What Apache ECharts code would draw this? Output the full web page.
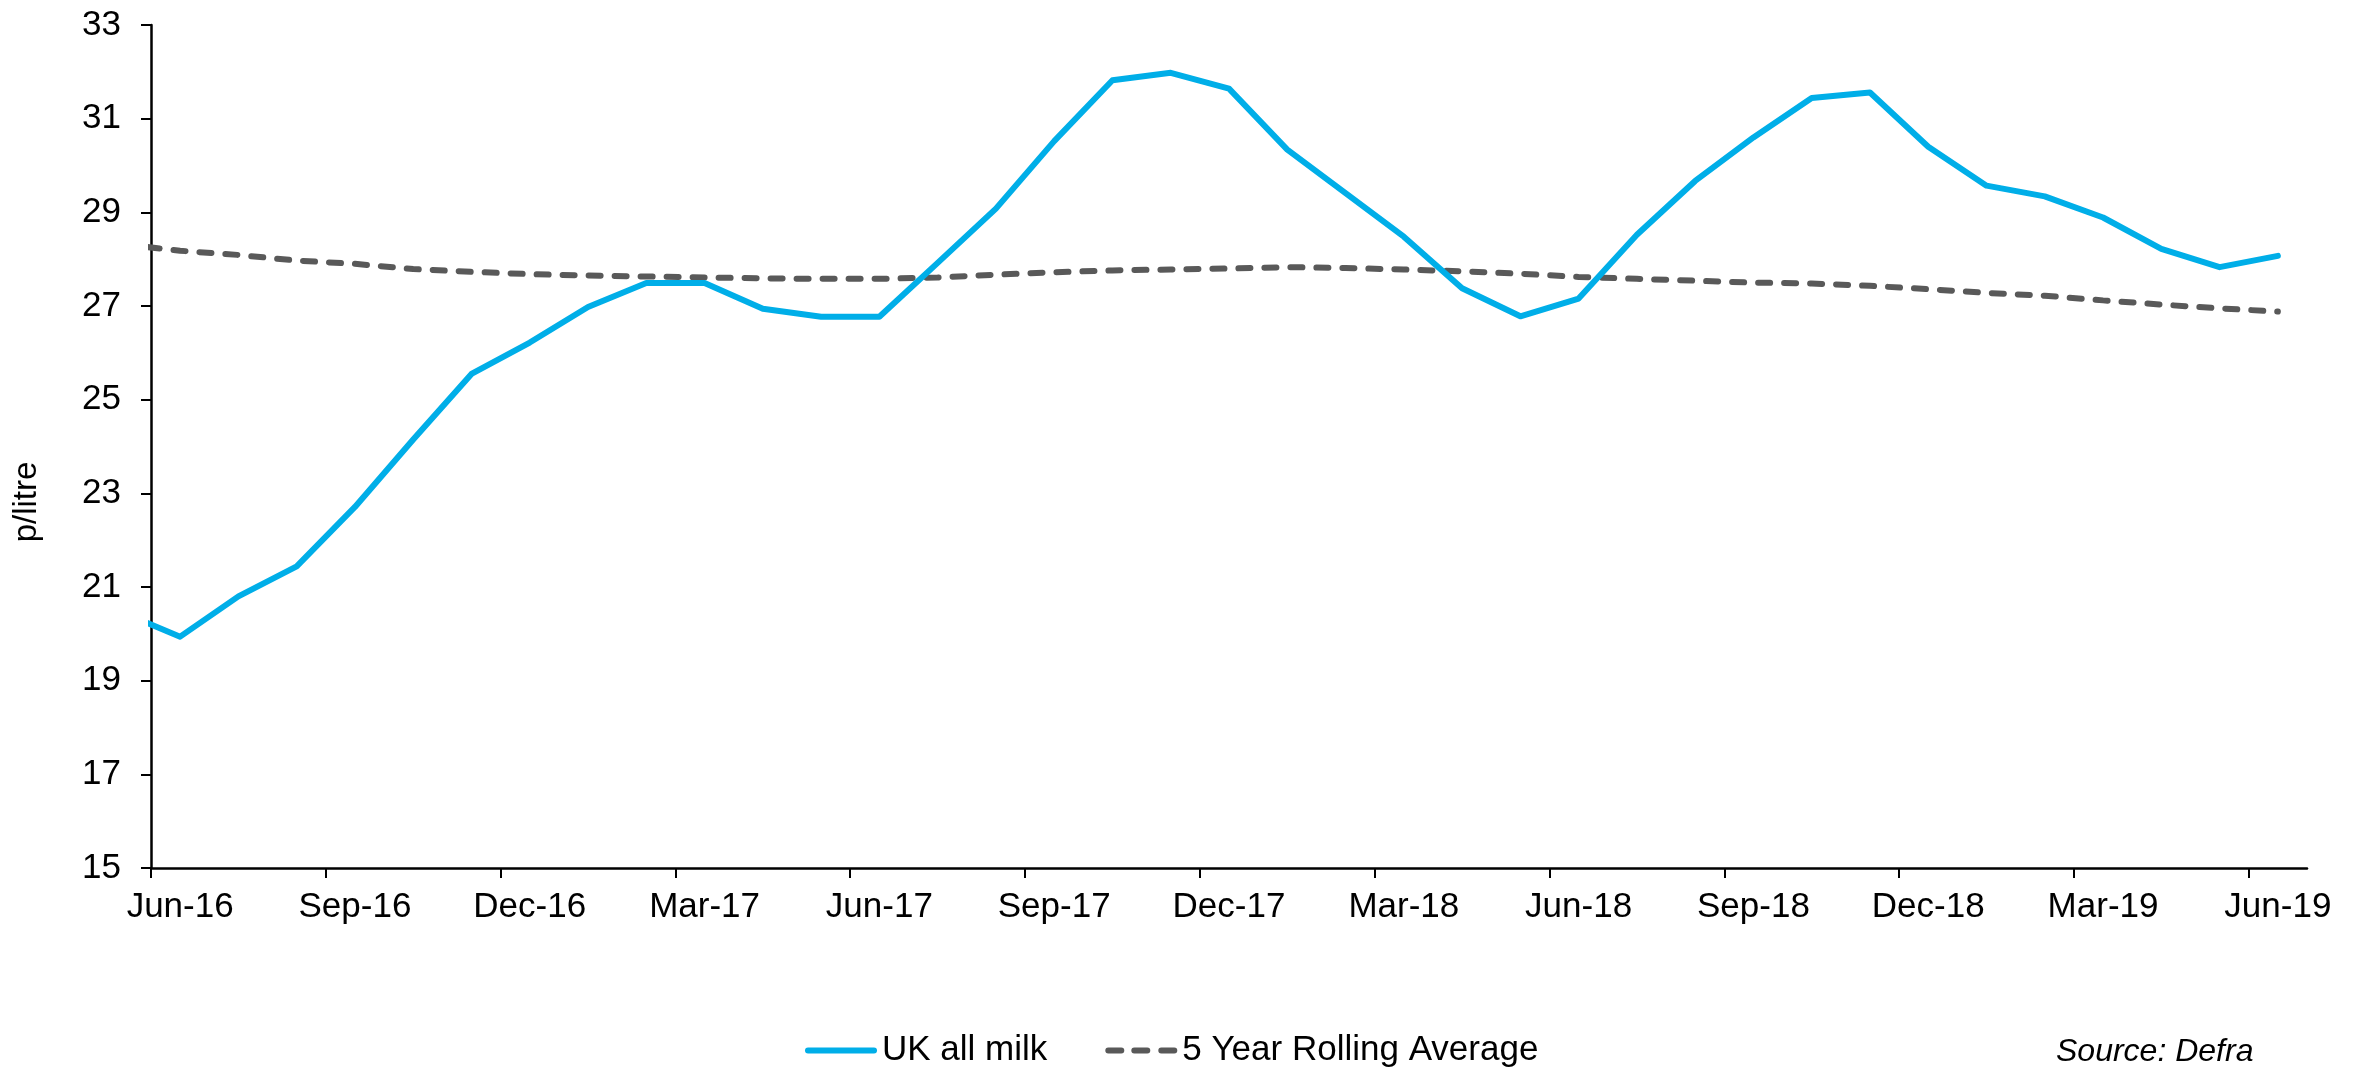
<!DOCTYPE html>
<html>
<head>
<meta charset="utf-8">
<script src="https://cdn.jsdelivr.net/npm/echarts@6/dist/echarts.min.js"></script>
<style>
html,body{margin:0;padding:0;background:#fff;}
#chart{width:2363px;height:1067px;}
</style>
</head>
<body>
<div id="chart"></div>
<script>
// Monthly categories (May-16 is only partly visible, clipped at the axis)
const months = ['May-16','Jun-16','Jul-16','Aug-16','Sep-16','Oct-16','Nov-16','Dec-16',
  'Jan-17','Feb-17','Mar-17','Apr-17','May-17','Jun-17','Jul-17','Aug-17','Sep-17','Oct-17','Nov-17','Dec-17',
  'Jan-18','Feb-18','Mar-18','Apr-18','May-18','Jun-18','Jul-18','Aug-18','Sep-18','Oct-18','Nov-18','Dec-18',
  'Jan-19','Feb-19','Mar-19','Apr-19','May-19','Jun-19'];
const ukAllMilk = [20.46, 19.94, 20.80, 21.44, 22.71, 24.15, 25.55, 26.22,
  26.98, 27.49, 27.49, 26.94, 26.77, 26.77, 27.92, 29.08, 30.52, 31.82, 31.98, 31.64,
  30.34, 29.41, 28.48, 27.38, 26.78, 27.16, 28.52, 29.67, 30.60, 31.44, 31.56, 30.40,
  29.57, 29.34, 28.89, 28.22, 27.83, 28.07];
const rollingAvg = [28.32, 28.18, 28.09, 27.97, 27.90, 27.79, 27.73, 27.68,
  27.65, 27.63, 27.61, 27.59, 27.58, 27.58, 27.61, 27.67, 27.72, 27.76, 27.78, 27.80,
  27.83, 27.81, 27.78, 27.74, 27.69, 27.62, 27.58, 27.54, 27.50, 27.48, 27.43, 27.36,
  27.28, 27.22, 27.12, 27.03, 26.95, 26.88];
const tickLabels = ['Jun-16','Sep-16','Dec-16','Mar-17','Jun-17','Sep-17','Dec-17',
  'Mar-18','Jun-18','Sep-18','Dec-18','Mar-19','Jun-19'];
const yTicks = [15, 17, 19, 21, 23, 25, 27, 29, 31, 33];

const FONT = "'Liberation Sans', Arial, Helvetica, sans-serif";
const BLUE = '#00AEE8';
const GREY = '#595959';
// position of month i: centre of its month band; Jun-16 band starts at 0
const xOf = i => i - 0.5;
const toPts = arr => arr.map((v, i) => [xOf(i), v]);
const labelPos = tickLabels.map(t => xOf(months.indexOf(t)));
const tickPos = labelPos.map(p => p - 0.5);

const chart = echarts.init(document.getElementById('chart'));
chart.setOption({
  animation: false,
  backgroundColor: '#ffffff',
  grid: { left: 151, right: 56, top: 25, bottom: 199, containLabel: false },
  xAxis: {
    type: 'value',
    min: 0,
    max: months.length - 1,
    splitLine: { show: false },
    axisLine: { show: true, lineStyle: { color: '#000', width: 2.5 } },
    axisTick: { show: true, length: 10, inside: false, lineStyle: { color: '#000', width: 2 }, customValues: tickPos },
    axisLabel: {
      customValues: labelPos,
      margin: 22,
      fontFamily: FONT, fontSize: 35, color: '#000',
      formatter: v => months[Math.round(v + 0.5)] || ''
    }
  },
  yAxis: {
    type: 'value',
    min: 15, max: 33, interval: 2,
    splitLine: { show: false },
    axisLine: { show: true, lineStyle: { color: '#000', width: 2.5 } },
    axisTick: { show: true, length: 10, lineStyle: { color: '#000', width: 2 } },
    axisLabel: { margin: 30, fontFamily: FONT, fontSize: 35, color: '#000',
      formatter: v => (yTicks.indexOf(v) >= 0 ? String(v) : '') }
  },
  legend: {
    data: [
      { name: 'UK all milk', icon: 'path://M3,0 L69,0 A3,3 0 0 1 69,6 L3,6 A3,3 0 0 1 3,0 Z' },
      { name: '5 Year Rolling Average', icon: 'path://M3,0 L16,0 A3,3 0 0 1 16,6 L3,6 A3,3 0 0 1 3,0 Z M29,0 L42,0 A3,3 0 0 1 42,6 L29,6 A3,3 0 0 1 29,0 Z M56,0 L69,0 A3,3 0 0 1 69,6 L56,6 A3,3 0 0 1 56,0 Z' }
    ],
    left: 800, top: 1028,
    itemWidth: 72, itemHeight: 7, itemGap: 58,
    itemStyle: { borderWidth: 0 },
    textStyle: { fontFamily: FONT, fontSize: 35, color: '#000', padding: [0, 0, 0, 0] }
  },
  graphic: [
    { type: 'text', x: 27, y: 502, rotation: Math.PI / 2,
      style: { text: 'p/litre', fontFamily: FONT, fontSize: 33, fill: '#000', align: 'center', verticalAlign: 'middle' } },
    { type: 'text', x: 2056, y: 1052,
      style: { text: 'Source: Defra', fontFamily: FONT, fontSize: 32, fontStyle: 'italic', fill: '#000', align: 'left', verticalAlign: 'middle' } }
  ],
  series: [
    {
      name: 'UK all milk', type: 'line', data: toPts(ukAllMilk),
      symbol: 'none', clip: true,
      lineStyle: { color: BLUE, width: 6, join: 'round', cap: 'round' },
      itemStyle: { color: BLUE }, z: 3
    },
    {
      name: '5 Year Rolling Average', type: 'line', data: toPts(rollingAvg),
      symbol: 'none', clip: true,
      lineStyle: { color: GREY, width: 6, type: [12, 14], cap: 'round' },
      itemStyle: { color: GREY }, z: 2
    }
  ]
});
</script>
</body>
</html>
